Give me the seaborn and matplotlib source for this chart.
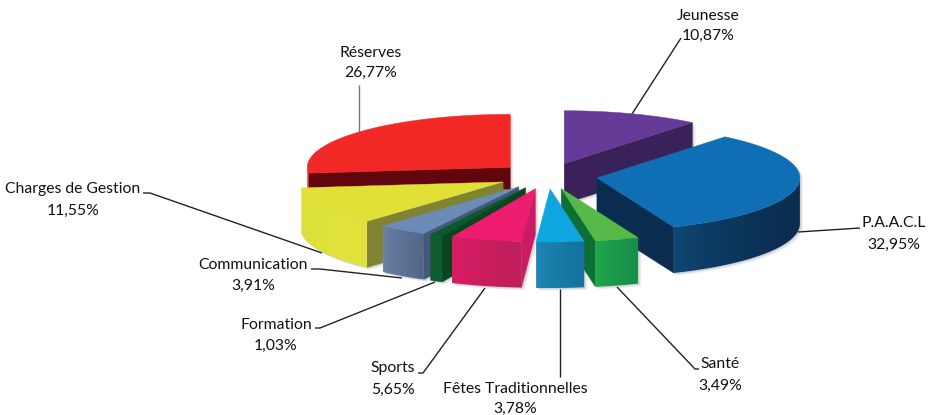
import numpy as np
import matplotlib
matplotlib.use("Agg")
import matplotlib.pyplot as plt
from matplotlib.colors import LinearSegmentedColormap
from matplotlib.patches import Polygon
import seaborn as sns

labels = ["Jeunesse", "P.A.A.C.L", "Santé", "Fêtes Traditionnelles", "Sports",
          "Formation", "Communication", "Charges de Gestion", "Réserves"]
values = [10.87, 32.95, 3.49, 3.78, 5.65, 1.03, 3.91, 11.55, 26.77]

top_colors = ["#663A97", "#106EB4", "#57B947", "#0FA5E0", "#EE1C6E", "#0B5A2D", "#6C8CB8", "#E0E037", "#F12825"]
cut_colors = ["#3B2159", "#0A2C4E", "#0A7034", "#1E85B5", "#C91C62", "#0B4520", "#46587A", "#808234", "#60060C"]
rim_left = ["#3B2159", "#0F4A78", "#22AC4A", "#1F88B8", "#E01A66", "#0F5E32", "#6E86AA", "#DDE03A", "#F02522"]
rim_right = ["#3B2159", "#0A2C4E", "#178F4A", "#15739E", "#BE1F5A", "#0F5E32", "#52678A", "#E2E23C", "#F02522"]
depths = [40, 46, 46, 46, 46, 46, 46, 46, 22]
draw_order = [8, 0, 1, 7, 6, 5, 4, 2, 3]

# label text centre (x, y of the first line), second line y, leader polyline
label_pos = [(708, 16, 36), (894, 223, 245), (720, 364, 386), (515, 389, 409), (393, 368, 390),
             (276, 325, 346), (253, 265, 286), (73, 189, 211), (371, 53, 73)]
leaders = [[(681, 38), (632, 114)],
           [(860, 228), (798, 232)],
           [(699, 369), (695, 369), (617, 287)],
           [(560, 377), (560, 289)],
           [(418, 373), (423, 373), (485, 288)],
           [(315, 328), (320, 328), (435, 282)],
           [(311, 269), (320, 269), (402, 278)],
           [(143, 193), (150, 193), (322, 253)],
           [(359, 85), (359, 132)]]
leader_colors = ["#222222"] * 8 + ["#777777"]

CX, CY, RX, RY = 547.5, 176, 203, 53
EXPLODE = 0.246

sns.set_theme(style="white")
plt.rcParams["font.family"] = ["Lato", "DejaVu Sans"]
fig, ax = plt.subplots(figsize=(9.3, 4.15), dpi=100)
fig.subplots_adjust(0, 0, 1, 1)


def hull(pts):
    pts = sorted(set(map(tuple, pts)))
    def half(seq):
        out = []
        for p in seq:
            while len(out) > 1 and ((out[-1][0]-out[-2][0])*(p[1]-out[-2][1]) - (out[-1][1]-out[-2][1])*(p[0]-out[-2][0])) <= 0:
                out.pop()
            out.append(p)
        return out[:-1]
    return np.array(half(pts) + half(pts[::-1]))


for pts, col in zip(leaders, leader_colors):
    xs, ys = zip(*pts)
    ax.plot(xs, ys, color=col, lw=1.0, zorder=1, solid_capstyle="butt")

edges = np.concatenate([[0], np.cumsum(values)]) / sum(values) * 360
z = 2
for i in draw_order:
    t1, t2 = edges[i], edges[i + 1]
    mid = np.radians((t1 + t2) / 2)
    ax0 = CX + EXPLODE * RX * np.sin(mid)
    ay0 = CY - EXPLODE * RY * np.cos(mid)
    d = depths[i]

    def rim(a):
        a = np.radians(a)
        return ax0 + RX * np.sin(a), ay0 - RY * np.cos(a)

    arc = np.array([rim(a) for a in np.linspace(t1, t2, 80)])
    top = np.vstack([[ax0, ay0], arc])
    bottom = top + [0, d]
    sil = hull(np.vstack([top, bottom]))
    for off in (1, 2, 3):
        ax.fill(sil[:, 0] + off, sil[:, 1] + off * 0.8, color="#555555", alpha=0.10, lw=0, zorder=z)
    z += 1

    # cut faces
    for ang, vis in ((t1, np.sin(np.radians(t1)) < -1e-6), (t2, np.sin(np.radians(t2)) > 1e-6)):
        if vis:
            px, py = rim(ang)
            ax.fill([ax0, px, px, ax0], [ay0, py, py + d, ay0 + d],
                    color=cut_colors[i], lw=0.3, zorder=z)
            z += 1
    # outer wall: horizontal gradient clipped to the wall outline
    lo, hi = max(t1, 90), min(t2, 270)
    if hi > lo:
        pts = np.array([rim(a) for a in np.linspace(lo, hi, 60)])
        wall = np.vstack([pts, pts[::-1] + [0, d]])
        xmin, xmax = wall[:, 0].min(), wall[:, 0].max()
        ymin, ymax = wall[:, 1].min(), wall[:, 1].max()
        # the gradient runs from the side of the larger angle (left) to the right
        cmap = LinearSegmentedColormap.from_list("w", [rim_left[i], rim_right[i]])
        grad = (np.linspace(0, 1, 256) ** 0.6)[None, :]
        clip = Polygon(wall, closed=True, transform=ax.transData, fc="none", ec="none")
        ax.add_patch(clip)
        im = ax.imshow(grad, extent=(xmin, xmax, ymax, ymin), cmap=cmap, vmin=0, vmax=1,
                       aspect="auto", interpolation="bilinear", zorder=z)
        im.set_clip_path(clip)
        z += 1
    ax.fill(top[:, 0], top[:, 1], color=top_colors[i], lw=0.3, zorder=z)
    z += 1

for lab, val, (x, y1, y2) in zip(labels, values, label_pos):
    ax.text(x, y1, lab, ha="center", va="center", fontsize=11.3, color="#111111", zorder=z)
    ax.text(x, y2, f"{val:.2f}".replace(".", ",") + "%", ha="center", va="center",
            fontsize=11.3, color="#111111", zorder=z)

ax.set_xlim(0, 930)
ax.set_ylim(415, 0)
ax.set_aspect("auto")
ax.axis("off")
fig.savefig("out.png", dpi=100, facecolor="white")
